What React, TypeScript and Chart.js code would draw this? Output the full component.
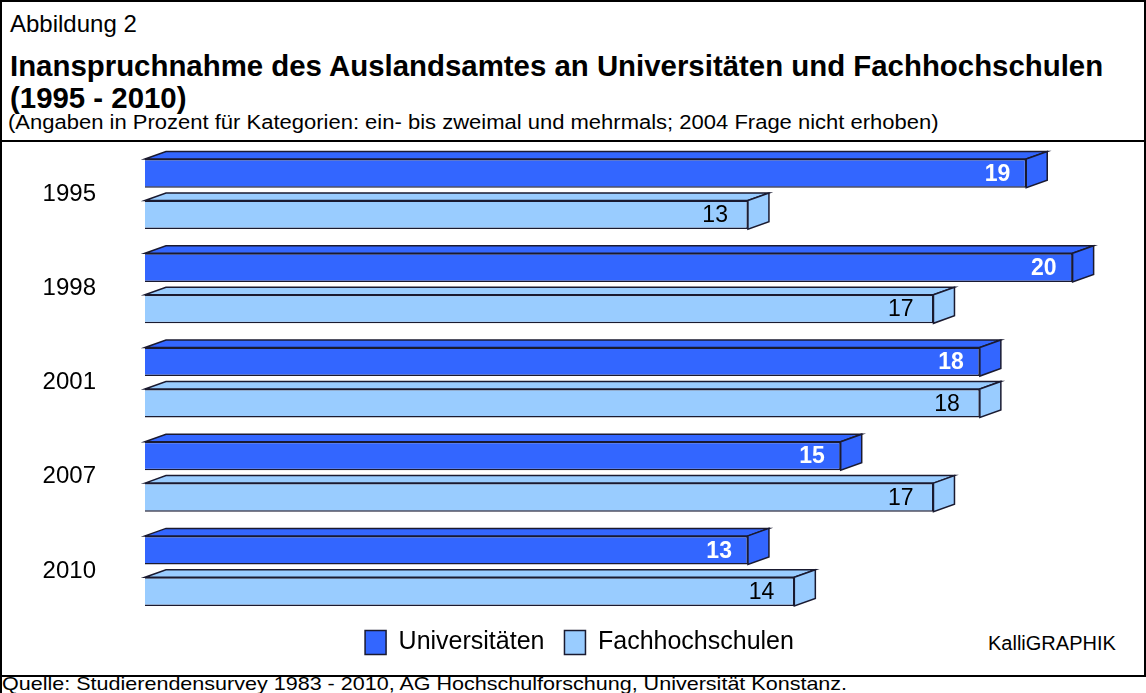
import React, { useEffect, useRef } from 'react';
import { Chart, registerables } from 'chart.js';

Chart.register(...registerables);

// ---- data ----
const categories = ['1995', '1998', '2001', '2007', '2010'];
const universitaeten = [19, 20, 18, 15, 13];
const fachhochschulen = [13, 17, 18, 17, 14];
const seriesNames = ['Universitäten', 'Fachhochschulen'];
const xMax = 21;

const FONT = '"Liberation Sans", Arial, Helvetica, sans-serif';
const DARK = '#3366FF';
const LIGHT = '#99CCFF';
const EDGE = '#1a1a30';
const DX = 21;
const DY = 7.5;
const LEGEND_SHIFT_X = 19;
const LEGEND_SHIFT_Y = -8;

const bar3d = {
  id: 'bar3d',
  afterLayout(chart: any) {
    const lg = chart.legend;
    if (lg) {
      lg.left += LEGEND_SHIFT_X;
      lg.right += LEGEND_SHIFT_X;
      lg.top += LEGEND_SHIFT_Y;
      lg.bottom += LEGEND_SHIFT_Y;
    }
  },
  afterDatasetsDraw(chart: any) {
    const ctx = chart.ctx;
    ctx.save();
    chart.data.datasets.forEach((ds: any, di: number) => {
      const meta = chart.getDatasetMeta(di);
      meta.data.forEach((el: any, i: number) => {
        const { x, y, base, height } = el.getProps(['x', 'y', 'base', 'height'], true);
        const top = y - height / 2;
        const bottom = y + height / 2;
        const left = base;
        const right = x;
        ctx.fillStyle = ds.backgroundColor;
        ctx.strokeStyle = EDGE;
        ctx.lineWidth = 1.5;
        ctx.lineJoin = 'miter';
        ctx.beginPath();
        ctx.moveTo(left, top);
        ctx.lineTo(left + DX, top - DY);
        ctx.lineTo(right + DX, top - DY);
        ctx.lineTo(right, top);
        ctx.closePath();
        ctx.fill();
        ctx.stroke();
        ctx.beginPath();
        ctx.moveTo(right, top);
        ctx.lineTo(right + DX, top - DY);
        ctx.lineTo(right + DX, bottom - DY);
        ctx.lineTo(right, bottom);
        ctx.closePath();
        ctx.fill();
        ctx.stroke();
        // value label
        const v = ds.data[i];
        ctx.textAlign = 'right';
        ctx.textBaseline = 'middle';
        if (di === 0) {
          ctx.font = `bold 23px ${FONT}`;
          ctx.fillStyle = '#ffffff';
          ctx.fillText(String(v), right - 16, y + 1);
        } else {
          ctx.font = `23px ${FONT}`;
          ctx.fillStyle = '#000000';
          ctx.fillText(String(v), right - 20, y + 1);
        }
      });
    });
    ctx.restore();
  },
};

function BarChart() {
  const ref = useRef<HTMLCanvasElement | null>(null);
  useEffect(() => {
    if (!ref.current) return;
    const chart = new Chart(ref.current, {
      type: 'bar',
      data: {
        labels: categories,
        datasets: [
          {
            label: seriesNames[0],
            data: universitaeten,
            backgroundColor: DARK,
            borderColor: EDGE,
            borderWidth: 1.5,
            categoryPercentage: 0.88,
            barPercentage: 0.69,
          },
          {
            label: seriesNames[1],
            data: fachhochschulen,
            backgroundColor: LIGHT,
            borderColor: EDGE,
            borderWidth: 1.5,
            categoryPercentage: 0.88,
            barPercentage: 0.69,
          },
        ],
      },
      options: {
        indexAxis: 'y',
        responsive: false,
        animation: false,
        layout: { padding: { top: 4, right: 25, bottom: 3, left: 0 } },
        scales: {
          x: { display: false, min: 0, max: xMax },
          y: {
            grid: { display: false, drawTicks: false },
            border: { display: false },
            ticks: { font: { family: FONT, size: 24 }, color: '#000', padding: 49 },
            afterFit: (s: any) => {
              s.width = 143;
              s.paddingTop = 0;
              s.paddingBottom = 0;
            },
          },
        },
        plugins: {
          legend: {
            position: 'bottom',
            labels: {
              font: { family: FONT, size: 25 },
              color: '#000',
              boxWidth: 21,
              boxHeight: 24,
              padding: 20,
            },
          },
          tooltip: { enabled: false },
        },
      },
      plugins: [bar3d],
    } as any);
    return () => chart.destroy();
  }, []);
  return (
    <canvas
      ref={ref}
      width={1142}
      height={533}
      style={{ position: 'absolute', left: 2, top: 143, width: 1142, height: 533 }}
    />
  );
}

export default function App() {
  useEffect(() => {
    document.body.style.margin = '0';
  }, []);
  const t = (top: number, left: number, size: number, bold: boolean, text: string, sx = 1) => (
    <div
      style={{
        position: 'absolute',
        top,
        left,
        fontSize: size,
        lineHeight: '1',
        fontWeight: bold ? 'bold' : 'normal',
        whiteSpace: 'nowrap',
        color: '#000',
        transform: sx !== 1 ? `scaleX(${sx})` : undefined,
        transformOrigin: 'left top',
      }}
    >
      {text}
    </div>
  );
  return (
    <div
      style={{
        position: 'relative',
        width: 1146,
        height: 693,
        background: '#fff',
        fontFamily: FONT,
        overflow: 'hidden',
      }}
    >
      <div style={{ position: 'absolute', left: 0, top: 0, width: 2, height: 693, background: '#000' }} />
      <div style={{ position: 'absolute', left: 0, top: 0, width: 1146, height: 2, background: '#000' }} />
      <div style={{ position: 'absolute', left: 1144, top: 0, width: 2, height: 677, background: '#000' }} />
      <div style={{ position: 'absolute', left: 0, top: 140, width: 1146, height: 2, background: '#000' }} />
      <div style={{ position: 'absolute', left: 0, top: 675, width: 1146, height: 2, background: '#000' }} />
      {t(12, 10, 24, false, 'Abbildung 2')}
      {t(51, 10, 29.4, true, 'Inanspruchnahme des Auslandsamtes an Universitäten und Fachhochschulen')}
      {t(83, 10, 29.4, true, '(1995 - 2010)')}
      {t(112, 8, 20, false, '(Angaben in Prozent für Kategorien: ein- bis zweimal und mehrmals; 2004 Frage nicht erhoben)', 1.1)}
      {t(674.5, 2, 18.5, false, 'Quelle: Studierendensurvey 1983 - 2010, AG Hochschulforschung, Universität Konstanz.', 1.164)}
      {t(633, 988, 20, false, 'KalliGRAPHIK')}
      <BarChart />
    </div>
  );
}
